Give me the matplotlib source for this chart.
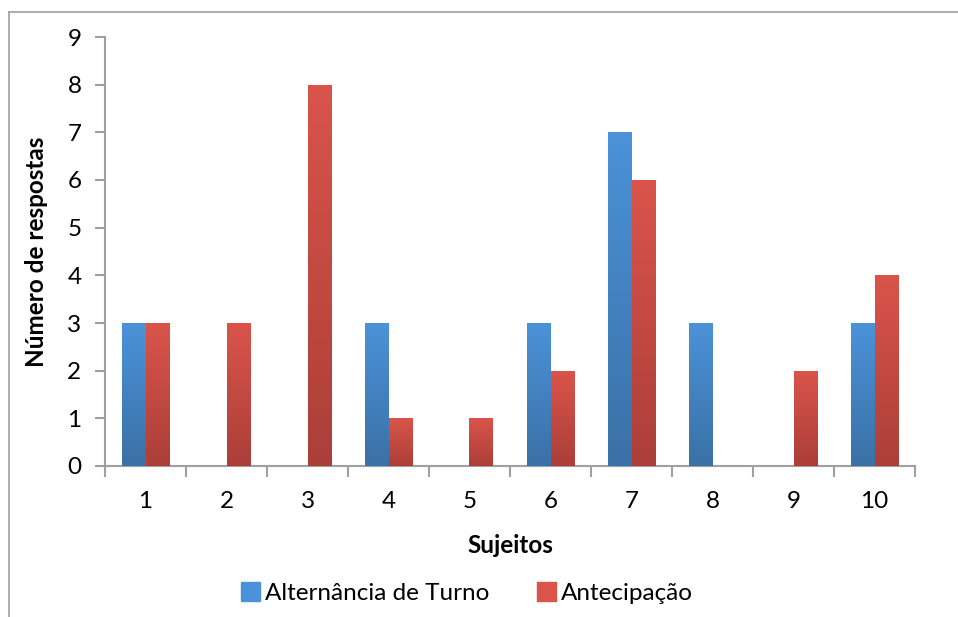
import numpy as np
import matplotlib
matplotlib.use("Agg")
import matplotlib.pyplot as plt
from matplotlib.colors import LinearSegmentedColormap
from matplotlib.lines import Line2D

plt.rcParams['font.family'] = ['Lato', 'DejaVu Sans']

categories = ["1", "2", "3", "4", "5", "6", "7", "8", "9", "10"]
alternancia = [3, 0, 0, 3, 0, 3, 7, 3, 0, 3]
antecipacao = [3, 3, 8, 1, 1, 2, 6, 0, 2, 4]
series_names = ["Alternância de Turno", "Antecipação"]
yticks = list(range(0, 10))

blue_top, blue_bot = "#4b92d9", "#3a71a6"
red_top, red_bot = "#da544b", "#ab3f38"

fs = 17.5

fig = plt.figure(figsize=(9.58, 6.17), dpi=100)
ax = fig.add_axes([105 / 958, 1 - 466 / 617, 810 / 958, 429 / 617])

x = np.arange(len(categories))
w = 0.29
axis_gray = "#a0a0a0"


def gradient_bars(xpos, values, top, bot, label):
    cmap = LinearSegmentedColormap.from_list("g", [bot, top])
    bars = ax.bar(xpos, values, width=w, color=top, label=label,
                  linewidth=0, zorder=2)
    grad = np.linspace(0, 1, 256).reshape(-1, 1)
    for patch, v in zip(bars.patches, values):
        if v <= 0:
            continue
        x0 = patch.get_x()
        x1 = x0 + patch.get_width()
        im = ax.imshow(grad, extent=[x0, x1, 0, v], origin="lower",
                       aspect="auto", cmap=cmap, zorder=3,
                       interpolation="bilinear")
        im.set_clip_path(patch)
    return bars


gradient_bars(x - w / 2, alternancia, blue_top, blue_bot, series_names[0])
gradient_bars(x + w / 2, antecipacao, red_top, red_bot, series_names[1])

ax.set_xlim(-0.5, len(categories) - 0.5)
ax.set_ylim(0, 9)

for s in ["top", "right"]:
    ax.spines[s].set_visible(False)
for s in ["left", "bottom"]:
    ax.spines[s].set_color(axis_gray)
    ax.spines[s].set_linewidth(1.5)

ax.set_yticks(yticks)
ax.set_yticklabels([str(t) for t in yticks], fontsize=fs)
ax.tick_params(axis="y", direction="out", length=7, width=1.5,
               color=axis_gray, pad=10)

ax.set_xticks(np.arange(-0.5, len(categories)), minor=False)
ax.set_xticklabels([])
ax.set_xticks(x, minor=True)
ax.set_xticklabels(categories, minor=True, fontsize=fs)
ax.tick_params(axis="x", which="major", direction="out", length=8,
               width=1.5, color=axis_gray)
ax.tick_params(axis="x", which="minor", length=0, pad=18)

ax.set_ylabel("Número de respostas", fontsize=fs, fontweight="bold",
              labelpad=14)
ax.set_xlabel("Sujeitos", fontsize=fs, fontweight="bold", labelpad=16)

handles = [plt.Rectangle((0, 0), 1, 1, color=blue_top),
           plt.Rectangle((0, 0), 1, 1, color=red_top)]
fig.legend(handles, series_names, loc="center",
           bbox_to_anchor=(467 / 958, 1 - 593 / 617), ncol=2, frameon=False,
           fontsize=fs, handlelength=0.8, handleheight=0.8,
           handletextpad=0.2, columnspacing=1.95)

# outer chart frame
fig.add_artist(Line2D([9 / 958, 9 / 958], [0, 1 - 12 / 617],
                      transform=fig.transFigure, color=axis_gray, lw=1.2))
fig.add_artist(Line2D([9 / 958, 1], [1 - 12 / 617, 1 - 12 / 617],
                      transform=fig.transFigure, color=axis_gray, lw=1.2))

fig.savefig("out.png", dpi=100)
